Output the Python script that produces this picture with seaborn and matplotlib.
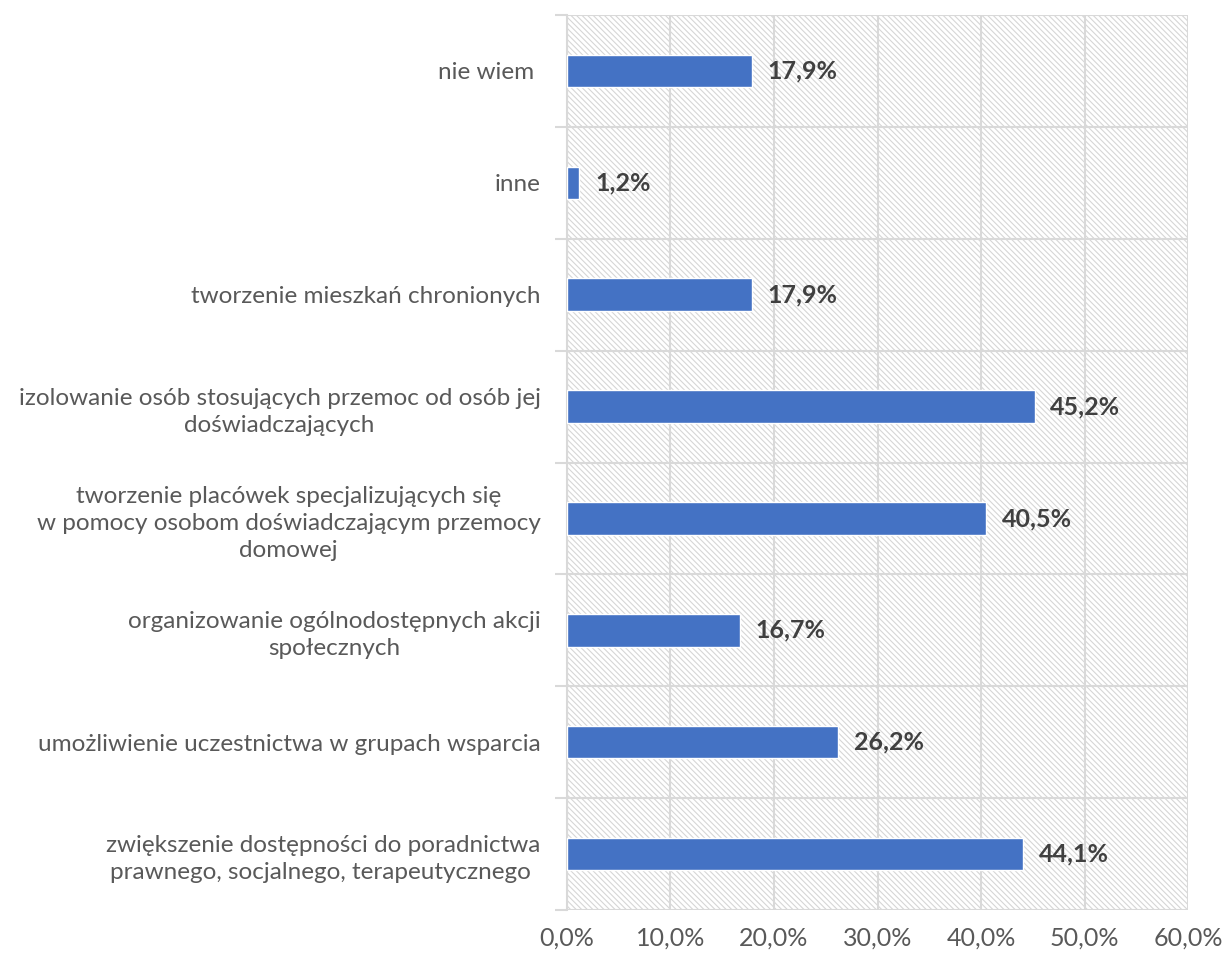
import pandas as pd
import seaborn as sns
import matplotlib.pyplot as plt
from matplotlib.patches import Rectangle
from matplotlib.ticker import MultipleLocator, FuncFormatter

# ============ Data ============
categories = [
    "nie wiem ",
    "inne",
    "tworzenie mieszkań chronionych",
    "izolowanie osób stosujących przemoc od osób jej\ndoświadczających",
    "tworzenie placówek specjalizujących się\nw pomocy osobom doświadczającym przemocy\ndomowej",
    "organizowanie ogólnodostępnych akcji\nspołecznych",
    "umożliwienie uczestnictwa w grupach wsparcia",
    "zwiększenie dostępności do poradnictwa\nprawnego, socjalnego, terapeutycznego ",
]
values = [17.9, 1.2, 17.9, 45.2, 40.5, 16.7, 26.2, 44.1]

df = pd.DataFrame({"cat": categories, "val": values})

# ============ Style ============
sns.set_style("white")
plt.rcParams['font.family'] = ['Lato', 'DejaVu Sans']
plt.rcParams['hatch.color'] = '#d6d6d6'
plt.rcParams['hatch.linewidth'] = 0.8

grid_col = '#d9d9d9'
text_col = '#595959'

fig = plt.figure(figsize=(12.23, 9.56), dpi=100)
ax = fig.add_axes([0.4636, 0.0481, 0.5078, 0.9362])

# hatched background of plot area
ax.add_patch(Rectangle((0, 0), 1, 1, transform=ax.transAxes, facecolor='white',
                       edgecolor='#d6d6d6', hatch='\\' * 6, linewidth=0, zorder=0))

sns.barplot(data=df, x="val", y="cat", orient="h", color="#4472C4",
            width=0.29, saturation=1, ax=ax, zorder=3)

ax.set_xlim(0, 60)
ax.set_ylim(len(categories) - 0.5, -0.5)
ax.xaxis.set_major_locator(MultipleLocator(10))
ax.xaxis.set_major_formatter(FuncFormatter(lambda v, p: f"{v:.1f}%".replace('.', ',')))

# vertical gridlines
ax.grid(axis='x', color=grid_col, linewidth=1.5, zorder=1)
ax.set_axisbelow(True)

# category separators and ticks
ax.set_yticks([i - 0.5 for i in range(len(categories) + 1)], minor=True)
ax.grid(axis='y', which='minor', color=grid_col, linewidth=1.5)
ax.tick_params(axis='y', which='minor', length=9, color=grid_col, width=1.5, left=True)
ax.tick_params(axis='y', which='major', length=0, pad=19, labelsize=17.5, labelcolor=text_col)
ax.tick_params(axis='x', length=0, pad=12, labelsize=18, labelcolor=text_col)
for lab in ax.get_yticklabels():
    lab.set_multialignment('center')
    lab.set_linespacing(1.35)

for s in ax.spines.values():
    s.set_visible(False)
ax.spines['left'].set_visible(True)
ax.spines['left'].set_color(grid_col)
ax.spines['left'].set_linewidth(1.5)

ax.set_xlabel("")
ax.set_ylabel("")

# value labels
for i, v in enumerate(values):
    ax.text(v + 1.5, i, f"{v:.1f}%".replace('.', ','), va='center', ha='left',
            fontsize=18, fontweight='bold', color='#404040', zorder=4)

fig.savefig("out.png", dpi=100)
